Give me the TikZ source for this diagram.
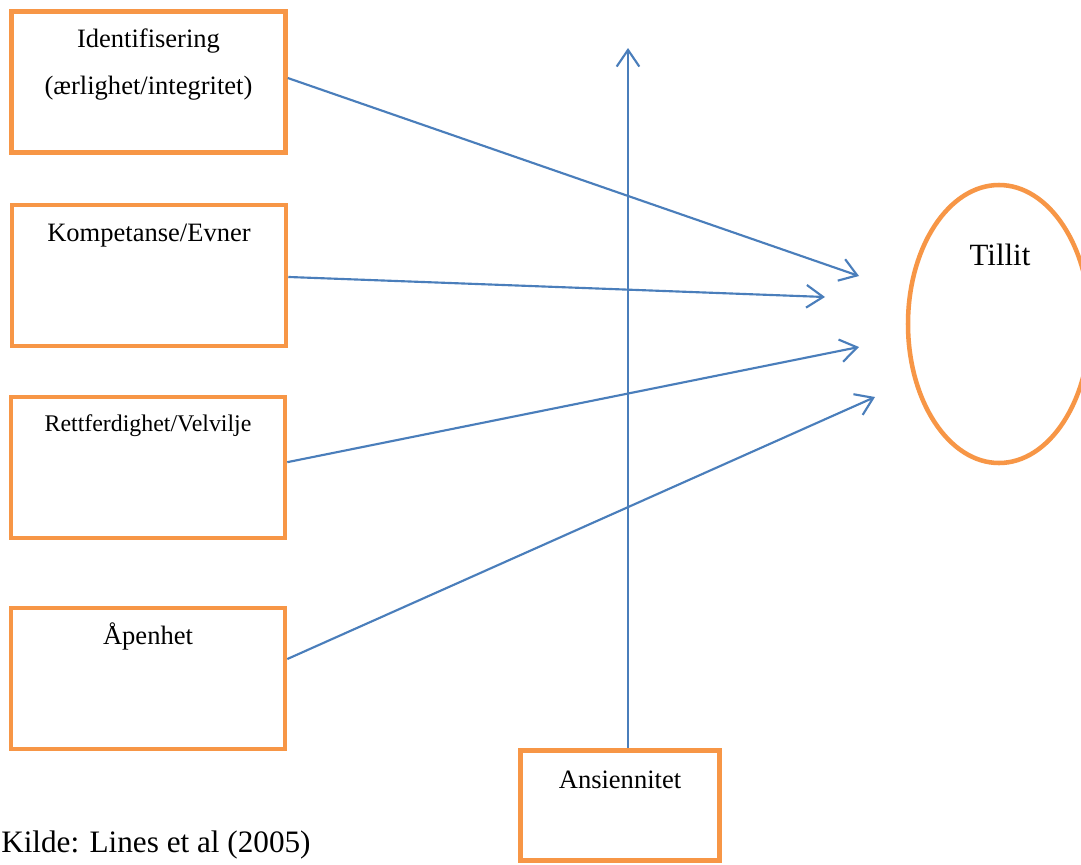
\documentclass[tikz,border=0pt]{standalone}
\usepackage{fontspec}
\setmainfont{Liberation Serif}
\usetikzlibrary{arrows.meta,shapes.geometric}
\definecolor{boxorange}{HTML}{F79646}
\definecolor{linkblue}{HTML}{4A7EBB}
\begin{document}
\begin{tikzpicture}[x=0.75pt,y=-0.75pt,
  factor/.style={draw=boxorange,line width=3.4pt,rectangle,inner sep=0pt,
    minimum width=205.5pt,minimum height=105.75pt},
  lbl/.style={anchor=base,inner sep=0pt,font=\fontsize{19.9}{24}\selectfont},
  link/.style={draw=linkblue,line width=1.6pt,
    -{Straight Barb[length=12.5pt,width=17pt]}}]
\clip (0,0) rectangle (1081,864);
\fill[white] (0,0) rectangle (1081,864);

% factor boxes
\node[factor] (b1) at (148.5,82) {};
\node[factor] (b2) at (149,275.5) {};
\node[factor] (b3) at (148,467.5) {};
\node[factor] (b4) at (148,678.5) {};
\node[factor,minimum width=149.25pt,minimum height=82.5pt] (an) at (620,805.5) {};

% box texts
\node[lbl] (t1a) at (148.5,47) {Identifisering};
\node[lbl] (t1b) at (148.5,94) {(ærlighet/integritet)};
\node[lbl] (t2) at (149,241) {Kompetanse/Evner};
\node[lbl,font=\fontsize{17.9}{22}\selectfont] (t3) at (148,431) {Rettferdighet/Velvilje};
\node[lbl] (t4) at (148,644) {Åpenhet};
\node[lbl] (t5) at (620,788) {Ansiennitet};

% outcome
\node[draw=boxorange,line width=3.4pt,ellipse,inner sep=0pt,
  minimum width=136.5pt,minimum height=208.5pt] (tillit) at (999,324) {};
\node[lbl,font=\fontsize{23.2}{28}\selectfont] (tt) at (1000,265) {Tillit};

% arrow ends
\coordinate (e1) at (859,276);
\coordinate (e2) at (825,297);
\coordinate (e3) at (859,347);
\coordinate (e4) at (875,397);
\coordinate (e5) at (628,48);

\draw[link] ([yshift=3pt]b1.east) -- (e1);
\draw[link] ([yshift=-1.1pt]b2.east) -- (e2);
\draw[link] ([yshift=4pt]b3.east) -- (e3);
\draw[link] ([yshift=14.6pt]b4.east) -- (e4);
\draw[link] ([xshift=6pt]an.north) -- (e5);

% source
\node[anchor=base west,inner sep=0pt,font=\fontsize{23.4}{28}\selectfont] (src) at (1,852) {Kilde: Lines et al (2005)};
\end{tikzpicture}
\end{document}
